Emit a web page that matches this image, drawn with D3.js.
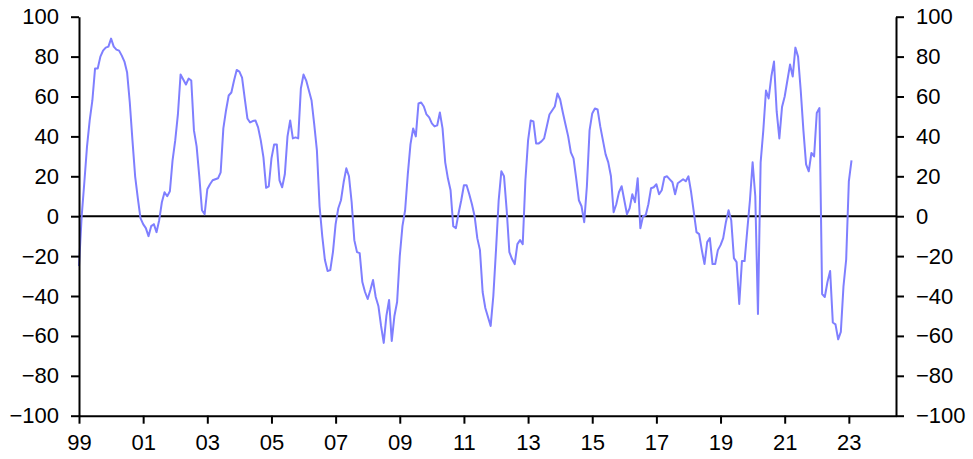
<!DOCTYPE html>
<html>
<head>
<meta charset="utf-8">
<script src="https://cdn.jsdelivr.net/npm/d3@7"></script>
<style>
  html, body { margin: 0; padding: 0; background: #fff; }
  svg { display: block; }
  text { font-family: "Liberation Sans", Arial, sans-serif; }
</style>
</head>
<body>
<svg id="chart" width="973" height="459"></svg>
<script>
// Monthly series, starting January 1999
const startYear = 1999;
const seriesValues = [
  -25, 0, 17, 35, 48, 58, 74, 74, 80, 83, 84.5, 85,
  89, 85, 83.5, 83, 80.5, 77.5, 72, 57, 38, 20, 9, -1,
  -4, -6, -10, -5, -4, -8, -2, 7, 12, 10, 12.5, 28,
  38, 51, 71, 68.5, 66, 69, 68, 43, 35, 20, 3, 1,
  13.5, 16, 18, 18.5, 19, 22, 44, 53, 60.5, 62, 68, 73.3,
  72.5, 69.5, 59, 49, 47, 47.7, 48, 44.5, 38, 29.5, 14.2, 15,
  29, 36, 36, 18, 14.5, 21, 40, 48, 39, 39.5, 39, 64,
  71, 68, 63, 58, 46, 33, 5, -10, -22, -27.5, -27, -18,
  -4, 4, 8, 17, 24, 20, 7, -12, -18, -18.5, -33, -38,
  -41.5, -37, -32, -40.5, -45, -55, -63.5, -50, -42, -62.5, -50, -43,
  -20, -5, 3, 21, 36, 44, 40, 56.5, 57, 55, 51, 49.5,
  46.5, 45, 45.5, 52, 44, 27, 19, 13, -5, -6, 1.5, 8,
  15.5, 15.5, 11, 6, 0, -11, -17, -38, -46, -50.5, -55, -40,
  -17, 8, 22.5, 20, 3, -18, -21.5, -24, -14, -12, -14, 18,
  38, 48, 47.5, 36.5, 36.5, 37.5, 39, 45, 51, 53, 55, 61.5,
  58.5, 52, 46, 40, 32, 29, 19, 8, 5, -3, 15, 43,
  51.5, 54, 53.5, 45, 38, 31, 27, 20, 2, 6, 12, 15,
  8, 1, 4, 11, 7, 19, -6, 0, 0.5, 6, 14, 14.5,
  16, 11, 13, 19.5, 20, 18.5, 17, 11, 16.5, 17.5, 18.5, 17.5,
  20, 12, 2, -8, -9, -17, -24, -13, -11, -24, -24, -17,
  -14.5, -11, -3, 3, -2, -21, -23, -44, -22.5, -22.5, -7, 8,
  27, 10, -49, 27, 43, 63, 59, 70, 77.5, 52.5, 39, 54.7,
  60, 68, 76, 70, 84.5, 80, 63, 43, 26, 22.5, 31.7, 30,
  51.7, 54.2, -39, -40.5, -33, -27.5, -53.3, -54.2, -61.7, -58, -35, -21.7,
  17.5, 28
];
const xTickYears = [1999, 2001, 2003, 2005, 2007, 2009, 2011, 2013, 2015, 2017, 2019, 2021, 2023];
const xTickLabels = ["99", "01", "03", "05", "07", "09", "11", "13", "15", "17", "19", "21", "23"];
const yTickValues = [-100, -80, -60, -40, -20, 0, 20, 40, 60, 80, 100];

const svg = d3.select("#chart");
const plotLeft = 79, plotRight = 896, plotTop = 16.7, plotBottom = 415.7;

const x = d3.scaleLinear().domain([1999, 2024.47]).range([plotLeft, plotRight]);
const y = d3.scaleLinear().domain([-100, 100]).range([plotBottom, plotTop]);

const data = seriesValues.map((v, i) => ({ t: startYear + i / 12, v }));

// zero line
svg.append("line")
  .attr("x1", plotLeft).attr("x2", plotRight)
  .attr("y1", y(0)).attr("y2", y(0))
  .attr("stroke", "#000").attr("stroke-width", 2);

// series line
svg.append("path")
  .datum(data)
  .attr("fill", "none")
  .attr("stroke", "#7f7fff")
  .attr("stroke-width", 2)
  .attr("stroke-linejoin", "round")
  .attr("d", d3.line().x(d => x(d.t)).y(d => y(d.v)));

function styleAxis(g) {
  g.selectAll("path.domain").attr("stroke", "#000").attr("stroke-width", 2);
  g.selectAll(".tick line").attr("stroke", "#000").attr("stroke-width", 2);
  g.selectAll(".tick text").attr("fill", "#000")
    .style("font-family", '"Liberation Sans", Arial, sans-serif')
    .style("font-size", "22px");
}

const gx = svg.append("g").attr("transform", `translate(0,${plotBottom})`)
  .call(d3.axisBottom(x).tickValues(xTickYears)
    .tickFormat((d, i) => xTickLabels[i]).tickSize(8).tickSizeOuter(0).tickPadding(11));
styleAxis(gx);

const gl = svg.append("g").attr("transform", `translate(${plotLeft},0)`)
  .call(d3.axisLeft(y).tickValues(yTickValues).tickSize(8).tickSizeOuter(0).tickPadding(12));
styleAxis(gl);

const gr = svg.append("g").attr("transform", `translate(${plotRight},0)`)
  .call(d3.axisRight(y).tickValues(yTickValues).tickSize(8).tickSizeOuter(0).tickPadding(12));
styleAxis(gr);
</script>
</body>
</html>
